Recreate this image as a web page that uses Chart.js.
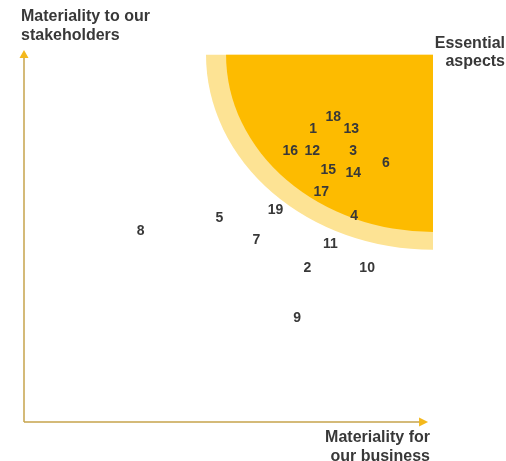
<!DOCTYPE html>
<html>
<head>
<meta charset="utf-8">
<script src="https://cdn.jsdelivr.net/npm/chart.js@4/dist/chart.umd.min.js"></script>
<style>
  html, body { margin: 0; padding: 0; background: #fff; }
  #wrap { width: 506px; height: 461px; }
</style>
</head>
<body>
<div id="wrap"><canvas id="matrix" width="506" height="461"></canvas></div>
<script>
// ------- Data -------
const aspectLabels = ['1', '2', '3', '4', '5', '6', '7', '8', '9', '10',
  '11', '12', '13', '14', '15', '16', '17', '18', '19'];
// materiality for our business (0-100)
const businessScore = [70.7, 69.3, 80.5, 80.7, 47.8, 88.5, 56.8, 28.5, 66.8, 83.9,
  74.9, 70.5, 80.0, 80.5, 74.4, 65.1, 72.7, 75.6, 61.5];
// materiality to our stakeholders (0-100)
const stakeholderScore = [78.8, 41.4, 72.8, 55.4, 54.8, 69.6, 48.9, 51.3, 28.0, 41.4,
  47.8, 72.8, 78.8, 66.9, 67.7, 72.8, 61.8, 82.0, 57.0];

const xAxisTitle = ['Materiality for', 'our business'];
const yAxisTitle = ['Materiality to our', 'stakeholders'];
const zoneTitle = ['Essential', 'aspects'];

// essential zone: quarter ellipse centred at top-right corner (data units)
const zoneCenter = { x: 100, y: 98.7 };
const zoneOuter = { rx: 55.5, ry: 52.4 };
const zoneInner = { rx: 50.6, ry: 47.6 };

const points = aspectLabels.map((l, i) => ({ x: businessScore[i], y: stakeholderScore[i] }));

const TEXT = '#383838';
const FONT = '"Liberation Sans", Arial, sans-serif';

const matrixPlugin = {
  id: 'matrix',
  beforeDatasetsDraw(chart) {
    const { ctx, chartArea, scales } = chart;
    const x = scales.x, y = scales.y;
    const cx = x.getPixelForValue(zoneCenter.x);
    const cy = y.getPixelForValue(zoneCenter.y);
    const pxX = (v) => x.getPixelForValue(v) - x.getPixelForValue(0);
    const pxY = (v) => y.getPixelForValue(0) - y.getPixelForValue(v);

    ctx.save();
    // outer light band
    ctx.fillStyle = '#fde394';
    ctx.beginPath();
    ctx.moveTo(cx, cy);
    ctx.ellipse(cx, cy, pxX(zoneOuter.rx), pxY(zoneOuter.ry), 0, Math.PI / 2, Math.PI);
    ctx.closePath();
    ctx.fill();
    // inner zone
    ctx.fillStyle = '#fdbb00';
    ctx.beginPath();
    ctx.moveTo(cx, cy);
    ctx.ellipse(cx, cy, pxX(zoneInner.rx), pxY(zoneInner.ry), 0, Math.PI / 2, Math.PI);
    ctx.closePath();
    ctx.fill();

    // axes with arrowheads
    const left = chartArea.left, bottom = chartArea.bottom;
    const yTip = chartArea.top, xTip = x.getPixelForValue(98.8);
    ctx.strokeStyle = '#c6a44c';
    ctx.lineWidth = 1.5;
    ctx.beginPath();
    ctx.moveTo(left, bottom);
    ctx.lineTo(left, yTip + 7);
    ctx.moveTo(left, bottom);
    ctx.lineTo(xTip - 8, bottom);
    ctx.stroke();
    ctx.fillStyle = '#f4b81c';
    ctx.beginPath();
    ctx.moveTo(left, yTip);
    ctx.lineTo(left - 4.5, yTip + 8);
    ctx.lineTo(left + 4.5, yTip + 8);
    ctx.closePath();
    ctx.fill();
    ctx.beginPath();
    ctx.moveTo(xTip, bottom);
    ctx.lineTo(xTip - 9, bottom - 4.5);
    ctx.lineTo(xTip - 9, bottom + 4.5);
    ctx.closePath();
    ctx.fill();
    ctx.restore();
  },
  afterDatasetsDraw(chart) {
    const { ctx } = chart;
    const meta = chart.getDatasetMeta(0);
    ctx.save();
    ctx.fillStyle = TEXT;
    ctx.font = 'bold 14px ' + FONT;
    ctx.textAlign = 'center';
    ctx.textBaseline = 'middle';
    meta.data.forEach((pt, i) => {
      ctx.fillText(aspectLabels[i], pt.x, pt.y);
    });

    ctx.font = 'bold 16px ' + FONT;
    ctx.textBaseline = 'middle';
    ctx.textAlign = 'left';
    yAxisTitle.forEach((t, i) => ctx.fillText(t, 21, 17 + i * 19));
    ctx.textAlign = 'right';
    zoneTitle.forEach((t, i) => ctx.fillText(t, 505, 44 + i * 18));
    xAxisTitle.forEach((t, i) => ctx.fillText(t, 430, 438 + i * 19));
    ctx.restore();
  }
};

new Chart(document.getElementById('matrix'), {
  type: 'scatter',
  data: {
    datasets: [{
      data: points,
      pointRadius: 0,
      pointHoverRadius: 0
    }]
  },
  options: {
    responsive: false,
    animation: false,
    layout: { padding: { left: 24, right: 73, top: 50, bottom: 39 } },
    plugins: { legend: { display: false }, tooltip: { enabled: false } },
    scales: {
      x: { type: 'linear', min: 0, max: 100, display: false },
      y: { type: 'linear', min: 0, max: 100, display: false }
    }
  },
  plugins: [matrixPlugin]
});
</script>
</body>
</html>
